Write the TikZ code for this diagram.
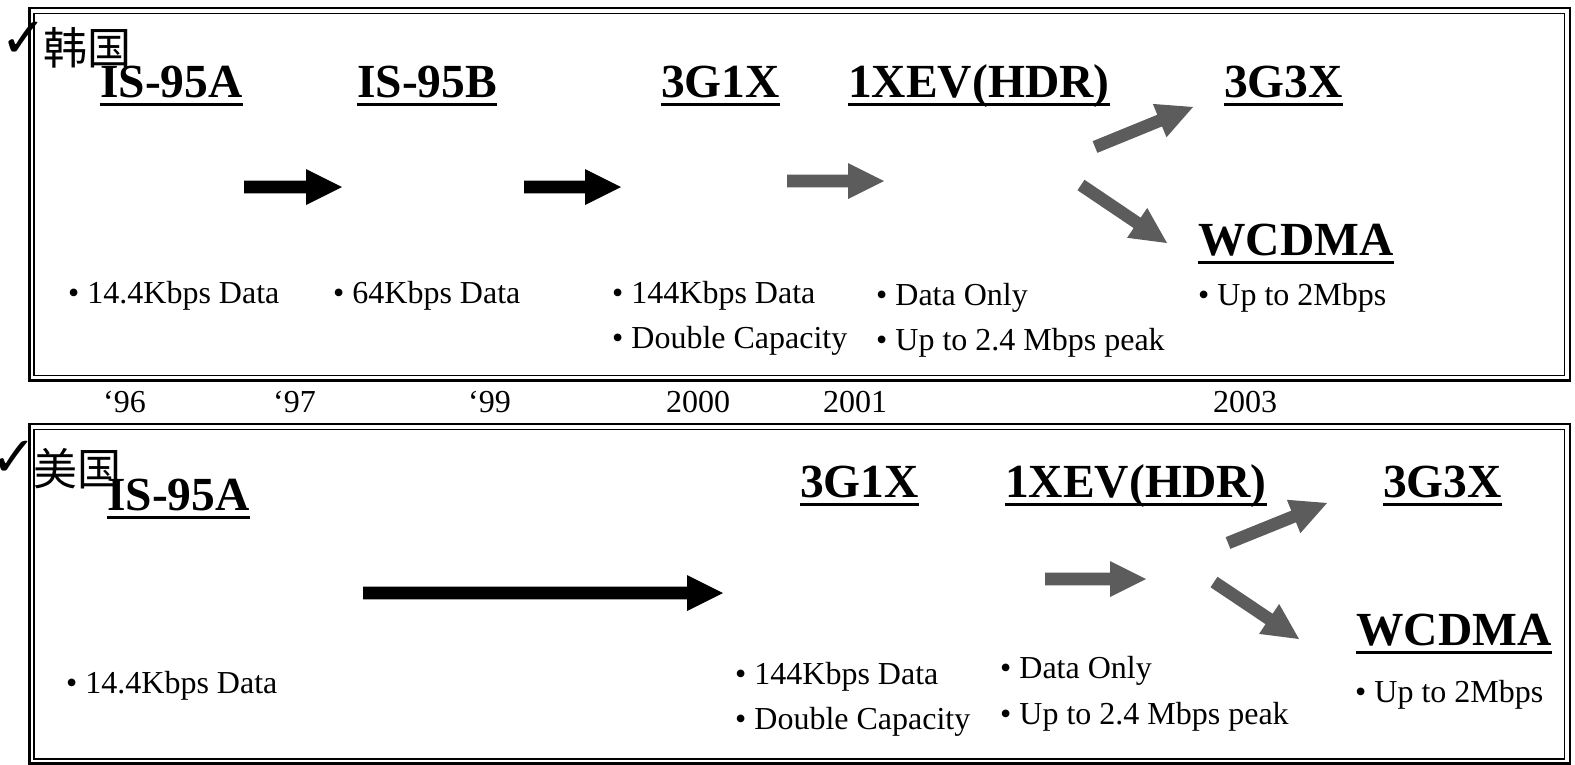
\documentclass[tikz,border=0pt]{standalone}
\usepackage{fontspec}
\setmainfont{Liberation Serif}
\newfontfamily\cjkf{Noto Sans CJK SC}
\newfontfamily\djvf{DejaVu Sans}
\usetikzlibrary{calc}
\definecolor{arrowgray}{RGB}{92,92,92}
\newcommand\blockarrow[3]{%
  \coordinate (bac) at ($(#3)!36pt!(#2)$);
  \fill[#1] ($(#2)!6.3pt!90:(#3)$) -- ($(bac)!6.3pt!90:(#3)$) -- ($(bac)!18pt!90:(#3)$) -- (#3)
    -- ($(bac)!18pt!-90:(#3)$) -- ($(bac)!6.3pt!-90:(#3)$) -- ($(#2)!6.3pt!-90:(#3)$) -- cycle;
}
\tikzset{
  outerframe/.style={draw, line width=2.3pt},
  innerframe/.style={draw, line width=1.3pt},
  txt/.style={inner sep=0, anchor=base west, font=\fontsize{32}{38}\selectfont},
  head/.style={inner sep=0, anchor=base west, font=\bfseries\fontsize{47.5}{50}\selectfont},
  cjkt/.style={inner sep=0, anchor=base west, font=\cjkf\fontsize{44}{44}\selectfont},
  chk/.style={inner sep=0, anchor=base east, font=\djvf\fontsize{56}{56}\selectfont},
  uline/.style={line width=3pt},
}
\newcommand\ul[1]{\draw[uline] ([yshift=-7pt]#1.base west) -- ([yshift=-7pt]#1.base east);}
\begin{document}
\begin{tikzpicture}[x=1pt,y=-1pt]
\useasboundingbox (0,0) rectangle (1575,764);
% frames
\draw[outerframe] (29.5,8) rectangle (1570,380.5);
\draw[innerframe] (34,13.5) rectangle (1564.5,375.5);
\draw[outerframe] (29.5,424) rectangle (1570,763.5);
\draw[innerframe] (34,429.5) rectangle (1564.5,759);
% ---------- top panel ----------
\node[chk] (krc) at (48,57) {✓};
\node[cjkt] (kr) at (43,64) {韩国};
\node[head] (t1) at (100,97) {IS-95A}; \ul{t1}
\node[head] (t2) at (357,97) {IS-95B}; \ul{t2}
\node[head] (t3) at (661,97) {3G1X}; \ul{t3}
\node[head] (t4) at (848,97) {1XEV(HDR)}; \ul{t4}
\node[head] (t5) at (1224,97) {3G3X}; \ul{t5}
\node[head] (t6) at (1198,255) {WCDMA}; \ul{t6}
\coordinate (a1t) at (244,187); \coordinate (a1h) at (342,187);
\coordinate (a2t) at (524,187); \coordinate (a2h) at (621,187);
\coordinate (a3t) at (787,181); \coordinate (a3h) at (884,181);
\coordinate (a4t) at (1095,147); \coordinate (a4h) at (1193,107);
\coordinate (a5t) at (1081,185); \coordinate (a5h) at (1167,243);
\blockarrow{black}{a1t}{a1h}
\blockarrow{black}{a2t}{a2h}
\blockarrow{arrowgray}{a3t}{a3h}
\blockarrow{arrowgray}{a4t}{a4h}
\blockarrow{arrowgray}{a5t}{a5h}
\node[txt] (d1) at (68,303) {\textbullet\ 14.4Kbps Data};
\node[txt] (d2) at (333,303) {\textbullet\ 64Kbps Data};
\node[txt] (d3) at (612,303) {\textbullet\ 144Kbps Data};
\node[txt] (d4) at (612,348) {\textbullet\ Double Capacity};
\node[txt] (d5) at (876,305) {\textbullet\ Data Only};
\node[txt] (d6) at (876,350) {\textbullet\ Up to 2.4 Mbps peak};
\node[txt] (d7) at (1198,305) {\textbullet\ Up to 2Mbps};
% years
\node[txt] (y1) at (103,412) {‘96};
\node[txt] (y2) at (273,412) {‘97};
\node[txt] (y3) at (468,412) {‘99};
\node[txt] (y4) at (666,412) {2000};
\node[txt] (y5) at (823,412) {2001};
\node[txt] (y6) at (1213,412) {2003};
% ---------- bottom panel ----------
\node[chk] (usc) at (38,476) {✓};
\node[cjkt] (us) at (33,485) {美国};
\node[head] (b1) at (107,510) {IS-95A}; \ul{b1}
\node[head] (b3) at (800,497) {3G1X}; \ul{b3}
\node[head] (b4) at (1005,497) {1XEV(HDR)}; \ul{b4}
\node[head] (b5) at (1383,497) {3G3X}; \ul{b5}
\node[head] (b6) at (1356,645) {WCDMA}; \ul{b6}
\coordinate (c1t) at (363,593); \coordinate (c1h) at (723,593);
\coordinate (c3t) at (1045,579); \coordinate (c3h) at (1146,579);
\coordinate (c4t) at (1228,543); \coordinate (c4h) at (1327,503);
\coordinate (c5t) at (1214,582); \coordinate (c5h) at (1299,639);
\blockarrow{black}{c1t}{c1h}
\blockarrow{arrowgray}{c3t}{c3h}
\blockarrow{arrowgray}{c4t}{c4h}
\blockarrow{arrowgray}{c5t}{c5h}
\node[txt] (e1) at (66,693) {\textbullet\ 14.4Kbps Data};
\node[txt] (e3) at (735,684) {\textbullet\ 144Kbps Data};
\node[txt] (e4) at (735,729) {\textbullet\ Double Capacity};
\node[txt] (e5) at (1000,678) {\textbullet\ Data Only};
\node[txt] (e6) at (1000,724) {\textbullet\ Up to 2.4 Mbps peak};
\node[txt] (e7) at (1355,702) {\textbullet\ Up to 2Mbps};
\end{tikzpicture}
\end{document}
